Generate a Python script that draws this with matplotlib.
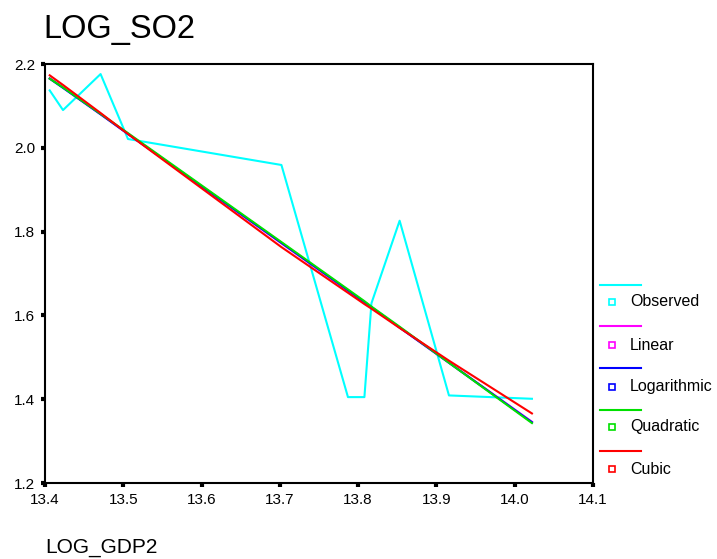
import matplotlib
matplotlib.use("Agg")
import matplotlib.pyplot as plt
from matplotlib.lines import Line2D

plt.rcParams['font.family'] = ['Liberation Sans', 'DejaVu Sans']

x_obs = [13.406, 13.423, 13.471, 13.506, 13.702, 13.787, 13.808, 13.817, 13.853, 13.916, 14.022]
y_obs = [2.137, 2.090, 2.176, 2.021, 1.959, 1.405, 1.405, 1.629, 1.826, 1.409, 1.401]

# fitted curves at the observed x values
y_linear = [2.166, 2.144, 2.080, 2.033, 1.772, 1.659, 1.631, 1.619, 1.571, 1.487, 1.346]
y_log = [2.165, 2.143, 2.080, 2.033, 1.773, 1.660, 1.632, 1.620, 1.571, 1.487, 1.345]
y_quad = [2.165, 2.144, 2.081, 2.035, 1.775, 1.662, 1.634, 1.621, 1.573, 1.487, 1.343]
y_cubic = [2.173, 2.150, 2.083, 2.033, 1.763, 1.654, 1.627, 1.616, 1.570, 1.492, 1.366]

x_ticks = [13.4, 13.5, 13.6, 13.7, 13.8, 13.9, 14.0, 14.1]
y_ticks = [1.2, 1.4, 1.6, 1.8, 2.0, 2.2]

names = ['Observed', 'Linear', 'Logarithmic', 'Quadratic', 'Cubic']
colors = ['#00ffff', '#ff00ff', '#0000ff', '#00e000', '#ff0000']

fig = plt.figure(figsize=(7.17, 5.59), dpi=100)
ax = fig.add_axes([45 / 717, 1 - 483 / 559, 548 / 717, 419 / 559])

series = [y_obs, y_linear, y_log, y_quad, y_cubic]
for ys, c in zip(series, colors):
    ax.plot(x_obs, ys, color=c, lw=1.5)

ax.set_xlim(13.4, 14.1)
ax.set_ylim(1.2, 2.2)
ax.set_xticks(x_ticks)
ax.set_xticklabels(['%.1f' % v for v in x_ticks])
ax.set_yticks(y_ticks)
ax.set_yticklabels(['%.1f' % v for v in y_ticks])
ax.tick_params(direction='out', length=3, width=3, labelsize=11, pad=4)
for sp in ax.spines.values():
    sp.set_linewidth(1.5)

fig.text(43 / 717, 1 - 38 / 559, 'LOG_SO2', fontsize=23.5, va='baseline', ha='left')
fig.text(45 / 717, 1 - 553 / 559, 'LOG_GDP2', fontsize=15, va='baseline', ha='left')

# legend drawn by hand: line sample above, square marker + label below
line_y = [285, 326, 368, 410, 451]
mark_y = [302, 345, 387, 427, 469]
for i in range(len(names)):
    yl = 1 - line_y[i] / 559
    ym = 1 - mark_y[i] / 559
    fig.add_artist(Line2D([600 / 717, 641 / 717], [yl, yl], color=colors[i], lw=1.5,
                          transform=fig.transFigure))
    fig.add_artist(Line2D([612 / 717], [ym], marker='s', markersize=5, markerfacecolor='white',
                          markeredgecolor=colors[i], markeredgewidth=1.2, linestyle='none',
                          transform=fig.transFigure))
    fig.text(630 / 717, ym, names[i], fontsize=11.5, va='center', ha='left')

fig.savefig('out.png', dpi=100)
